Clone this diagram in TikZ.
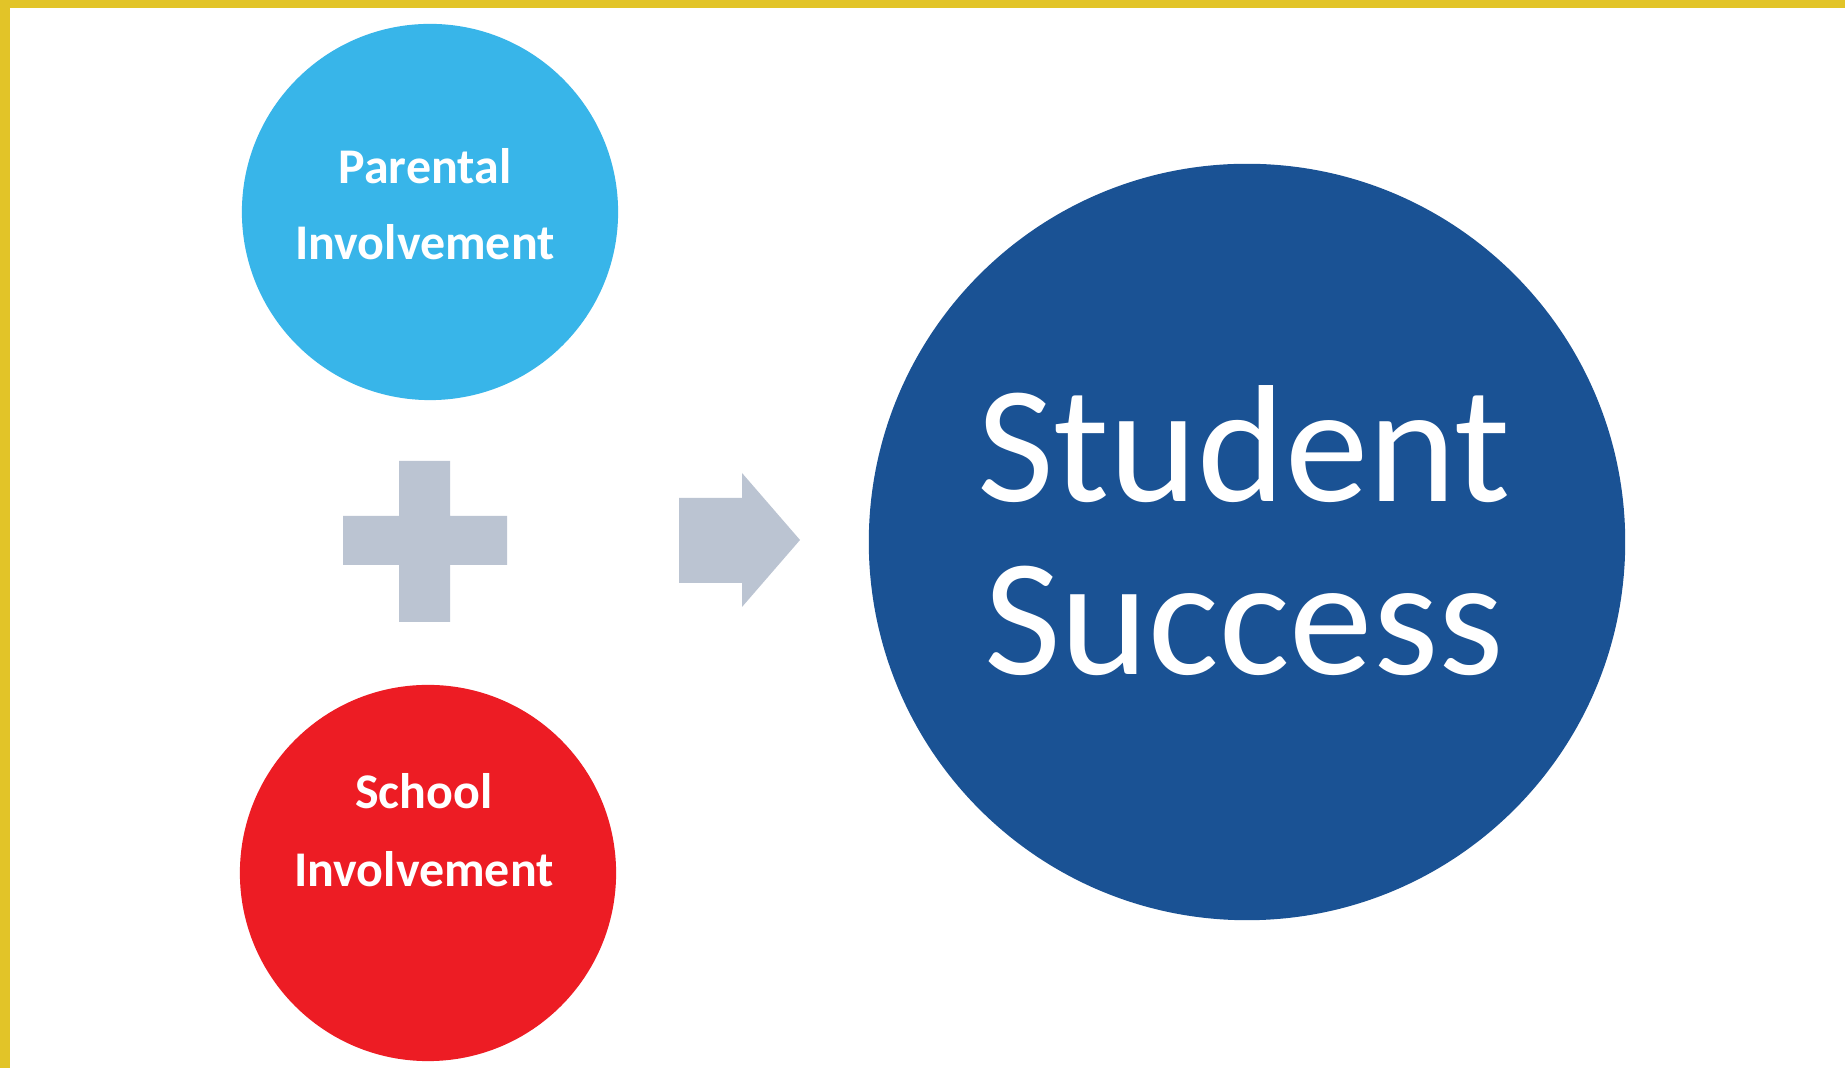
\documentclass[tikz,border=0pt]{standalone}
\usepackage{fontspec}
\setmainfont{Carlito}
\definecolor{bordery}{HTML}{E2C428}
\definecolor{lblue}{HTML}{38B5E9}
\definecolor{sred}{HTML}{ED1C24}
\definecolor{dblue}{HTML}{1A5294}
\definecolor{sgray}{HTML}{BBC4D2}
\begin{document}
\begin{tikzpicture}[x=0.01cm,y=-0.01cm,
  disc/.style={circle,inner sep=0pt,draw=none},
  smalltxt/.style={anchor=base,inner sep=0pt,text=white,font=\fontsize{14.2pt}{17pt}\selectfont\bfseries},
  bigtxt/.style={anchor=base,inner sep=0pt,text=white,font=\fontsize{47.5pt}{57pt}\selectfont},
  symb/.style={fill=sgray,draw=none}]
\useasboundingbox (0,0) rectangle (1845,1068);
\fill[white] (0,0) rectangle (1845,1068);
% yellow border (top and left)
\fill[bordery] (0,0) rectangle (1845,8.5);
\fill[bordery] (0,0) rectangle (9.5,1068);
% circles
\node[disc,fill=lblue,minimum size=3.76cm] (par) at (430,212) {};
\node[disc,fill=sred,minimum size=3.76cm] (sch) at (428,873) {};
\node[disc,fill=dblue,minimum size=7.56cm] (stu) at (1247,542) {};
% texts
\node[smalltxt] (parA) at (425,184) {Parental};
\node[smalltxt] (parB) at (425,260) {Involvement};
\node[smalltxt] (schA) at (424,809) {School};
\node[smalltxt] (schB) at (424,887) {Involvement};
\node[bigtxt] (stuA) at (1244,502) {Student};
\node[bigtxt] (stuB) at (1244,675) {Success};
% plus sign
\fill[symb] (399,461) -- (450,461) -- (450,516) -- (507,516) -- (507,565) -- (450,565)
  -- (450,622) -- (399,622) -- (399,565) -- (343,565) -- (343,516) -- (399,516) -- cycle;
% arrow
\fill[symb] (679,498) -- (742,498) -- (742,473) -- (800,540) -- (742,607) -- (742,583)
  -- (679,583) -- cycle;
\end{tikzpicture}
\end{document}
